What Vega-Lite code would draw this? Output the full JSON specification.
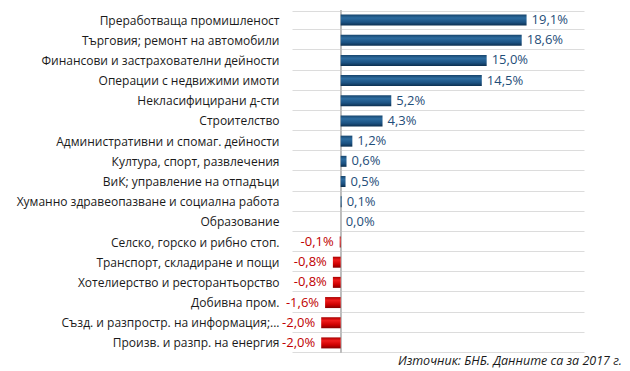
{
  "$schema": "https://vega.github.io/schema/vega-lite/v6.json",
  "width": 292,
  "height": 343,
  "autosize": {"type": "none"},
  "padding": {"left": 292, "top": 10, "right": 46, "bottom": 18},
  "background": "white",
  "config": {
    "view": {"stroke": null},
    "locale": {"number": {"decimal": ",", "thousands": " ", "grouping": [3], "currency": ["", ""], "minus": "-"}},
    "font": "Open Sans"
  },
  "title": {
    "text": "Източник: БНБ. Данните са за 2017 г.",
    "orient": "bottom",
    "anchor": "end",
    "font": "Open Sans",
    "fontSize": 12.5,
    "fontStyle": "italic",
    "fontWeight": "normal",
    "color": "#1a1a1a",
    "offset": 1,
    "dx": 38
  },
  "data": {
    "values": [
      {"sector": "Преработваща промишленост", "v": 0.191},
      {"sector": "Търговия; ремонт на автомобили", "v": 0.186},
      {"sector": "Финансови и застрахователни дейности", "v": 0.150},
      {"sector": "Операции с недвижими имоти", "v": 0.145},
      {"sector": "Некласифицирани д-сти", "v": 0.052},
      {"sector": "Строителство", "v": 0.043},
      {"sector": "Административни и спомаг. дейности", "v": 0.012},
      {"sector": "Култура, спорт, развлечения", "v": 0.006},
      {"sector": "ВиК; управление на отпадъци", "v": 0.005},
      {"sector": "Хуманно здравеопазване и социална работа", "v": 0.001},
      {"sector": "Образование", "v": 0.0},
      {"sector": "Селско, горско и рибно стоп.", "v": -0.001},
      {"sector": "Транспорт, складиране и пощи", "v": -0.008},
      {"sector": "Хотелиерство и ресторантьорство", "v": -0.008},
      {"sector": "Добивна пром.", "v": -0.016},
      {"sector": "Създ. и разпростр. на информация;...", "v": -0.020},
      {"sector": "Произв. и разпр. на енергия", "v": -0.020}
    ]
  },
  "encoding": {
    "y": {
      "field": "sector",
      "type": "nominal",
      "sort": null,
      "title": null,
      "axis": {
        "domain": false,
        "ticks": false,
        "grid": true,
        "tickBand": "extent",
        "gridColor": "#dcdcdc",
        "gridWidth": 1,
        "labelPadding": 13,
        "labelFont": "Open Sans",
        "labelFontSize": 12,
        "labelColor": "#1a1a1a",
        "labelLimit": 300
      }
    },
    "x": {
      "field": "v",
      "type": "quantitative",
      "scale": {"domain": [-0.05, 0.25], "nice": false, "zero": false},
      "axis": null
    }
  },
  "layer": [
    {
      "mark": {"type": "rule", "color": "#bdbdbd", "strokeWidth": 1},
      "encoding": {"x": {"datum": 0}, "y": null}
    },
    {
      "transform": [{"filter": "datum.v >= 0"}],
      "mark": {
        "type": "bar",
        "height": 11,
        "color": {
          "gradient": "linear",
          "x1": 0, "y1": 0, "x2": 0, "y2": 1,
          "stops": [
            {"offset": 0, "color": "#17456d"},
            {"offset": 0.3, "color": "#2d6c9f"},
            {"offset": 0.7, "color": "#1c5282"},
            {"offset": 1, "color": "#0c2f4f"}
          ]
        }
      },
      "encoding": {"x2": {"datum": 0}}
    },
    {
      "transform": [{"filter": "datum.v < 0"}],
      "mark": {
        "type": "bar",
        "height": 11,
        "color": {
          "gradient": "linear",
          "x1": 0, "y1": 0, "x2": 0, "y2": 1,
          "stops": [
            {"offset": 0, "color": "#a80000"},
            {"offset": 0.3, "color": "#f01c1c"},
            {"offset": 0.7, "color": "#cc0000"},
            {"offset": 1, "color": "#850000"}
          ]
        }
      },
      "encoding": {"x2": {"datum": 0}}
    },
    {
      "transform": [{"filter": "datum.v >= 0"}],
      "mark": {"type": "text", "align": "left", "baseline": "middle", "dx": 5, "fontSize": 13, "font": "Open Sans", "color": "#1f4e79"},
      "encoding": {"text": {"field": "v", "type": "quantitative", "format": ".1%"}}
    },
    {
      "transform": [{"filter": "datum.v < 0"}],
      "mark": {"type": "text", "align": "right", "baseline": "middle", "dx": -6, "fontSize": 13, "font": "Open Sans", "color": "#c00000"},
      "encoding": {"text": {"field": "v", "type": "quantitative", "format": ".1%"}}
    }
  ]
}
